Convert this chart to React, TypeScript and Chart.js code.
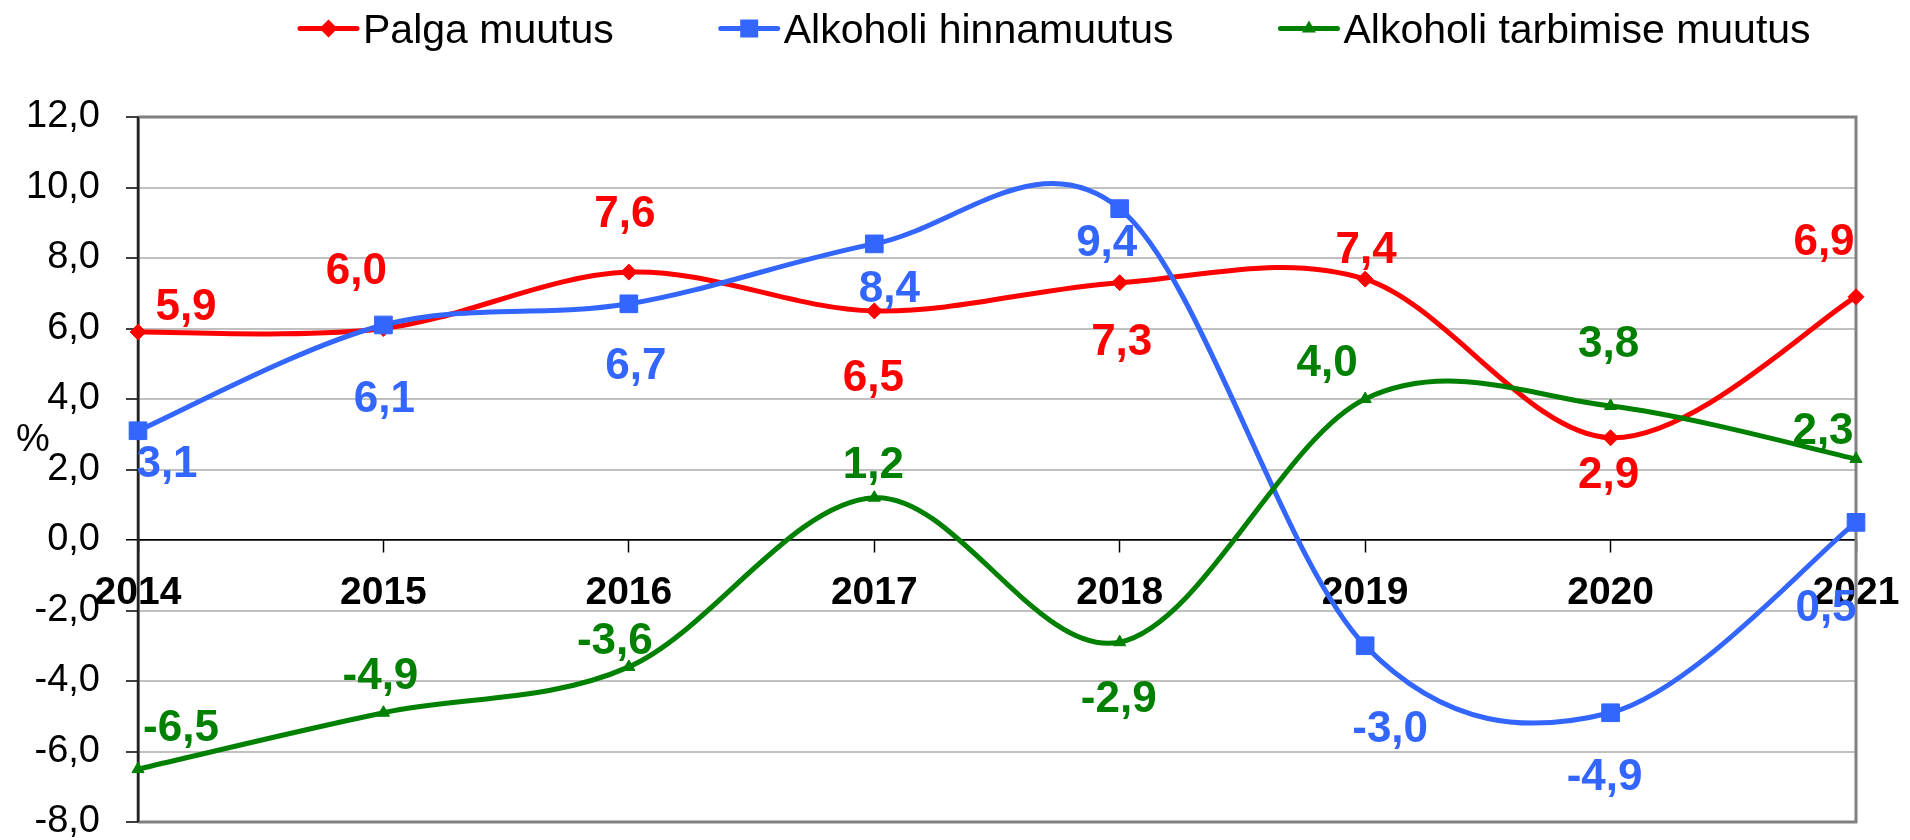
import React, { useEffect, useRef } from 'react';
import { Chart, registerables } from 'chart.js';

Chart.register(...registerables);

// ---- Data ----
const years = ['2014', '2015', '2016', '2017', '2018', '2019', '2020', '2021'];
const palgaMuutus = [5.9, 6.0, 7.6, 6.5, 7.3, 7.4, 2.9, 6.9];
const alkoholiHinnamuutus = [3.1, 6.1, 6.7, 8.4, 9.4, -3.0, -4.9, 0.5];
const alkoholiTarbimiseMuutus = [-6.5, -4.9, -3.6, 1.2, -2.9, 4.0, 3.8, 2.3];
const seriesNames = ['Palga muutus', 'Alkoholi hinnamuutus', 'Alkoholi tarbimise muutus'];
const yMin = -8;
const yMax = 12;
const yStep = 2;
const yAxisTitle = '%';

// ---- Label placement (pixel offsets from each point) ----
const redLabelOffsets = [[48, -28], [-27, -60], [-4, -61], [-1, 64], [2, 57], [1, -32], [-2, 34], [-32, -58]];
const blueLabelOffsets = [[29, 31], [1, 71], [7, 59], [15, 42], [-13, 32], [25, 80], [-6, 62], [-30, 83]];
const greenLabelOffsets = [[43, -44], [-3, -39], [-14, -29], [-1, -35], [-1, 54], [-38, -39], [-2, -65], [-33, -31]];

// ---- Styles ----
const FONT = "'Liberation Sans', Arial, sans-serif";
const RED = '#ff0000';
const BLUE = '#3366ff';
const GREEN = '#008000';

const fmt = (v: number) => v.toFixed(1).replace('.', ',');

function drawMarker(ctx: CanvasRenderingContext2D, style: string, x: number, y: number, color: string) {
  ctx.save();
  ctx.fillStyle = color;
  ctx.beginPath();
  if (style === 'rectRot') {
    const r = 9;
    ctx.moveTo(x, y - r);
    ctx.lineTo(x + r, y);
    ctx.lineTo(x, y + r);
    ctx.lineTo(x - r, y);
  } else if (style === 'rect') {
    const h = 9;
    ctx.rect(x - h, y - h, 2 * h, 2 * h);
  } else {
    ctx.moveTo(x, y - 8);
    ctx.lineTo(x + 7, y + 4);
    ctx.lineTo(x - 7, y + 4);
  }
  ctx.closePath();
  ctx.fill();
  ctx.restore();
}

const smoothPlugin = {
  id: 'excelSmooth',
  beforeDatasetDraw(chart: any, args: any) {
    const meta = args.meta;
    const line = meta.dataset;
    const pts = meta.data;
    if (line && typeof line.updateControlPoints === 'function') {
      line.updateControlPoints(chart.chartArea, 'x');
    }
    for (let i = 0; i < pts.length; i++) {
      const p = pts[i];
      const prev = pts[i - 1] || p;
      const next = pts[i + 1] || p;
      const dx = (next.x - prev.x) / 6;
      const dy = (next.y - prev.y) / 6;
      p.cp1x = p.x - dx;
      p.cp1y = p.y - dy;
      p.cp2x = p.x + dx;
      p.cp2y = p.y + dy;
    }
    if (line) line._path = undefined;
  },
};

const framePlugin = {
  id: 'frame',
  beforeDatasetsDraw(chart: any) {
    const { ctx, chartArea } = chart;
    const { left, right, top, bottom } = chartArea;
    ctx.save();
    ctx.strokeStyle = '#808080';
    ctx.lineWidth = 3;
    ctx.beginPath();
    ctx.moveTo(left, top);
    ctx.lineTo(right, top);
    ctx.lineTo(right, bottom);
    ctx.lineTo(left, bottom);
    ctx.stroke();
    ctx.strokeStyle = '#222';
    ctx.lineWidth = 2.5;
    ctx.beginPath();
    ctx.moveTo(left, top);
    ctx.lineTo(left, bottom);
    ctx.stroke();
    // y axis title
    ctx.fillStyle = '#000';
    ctx.font = `38px ${FONT}`;
    ctx.textAlign = 'center';
    ctx.textBaseline = 'alphabetic';
    ctx.fillText(yAxisTitle, 33, 437 + 0.358 * 38);
    ctx.restore();
  },
};

const labelPlugin = {
  id: 'dataLabels',
  afterDatasetsDraw(chart: any) {
    const { ctx } = chart;
    const offsets = [redLabelOffsets, blueLabelOffsets, greenLabelOffsets];
    ctx.save();
    ctx.font = `bold 44px ${FONT}`;
    ctx.textAlign = 'center';
    ctx.textBaseline = 'alphabetic';
    chart.data.datasets.forEach((ds: any, di: number) => {
      const meta = chart.getDatasetMeta(di);
      ctx.fillStyle = ds.borderColor;
      meta.data.forEach((pt: any, i: number) => {
        const [ox, oy] = offsets[di][i];
        ctx.fillText(fmt(ds.data[i]), pt.x + ox, pt.y + oy + 0.358 * 44);
      });
    });
    ctx.restore();
  },
};

const legendPlugin = {
  id: 'excelLegend',
  afterDraw(chart: any) {
    const { ctx } = chart;
    ctx.save();
    ctx.font = `41px ${FONT}`;
    ctx.textBaseline = 'alphabetic';
    ctx.textAlign = 'left';
    let x = 298;
    const cy = 28.5;
    chart.data.datasets.forEach((ds: any) => {
      ctx.strokeStyle = ds.borderColor;
      ctx.lineWidth = 5;
      ctx.lineCap = 'round';
      ctx.beginPath();
      ctx.moveTo(x + 2, cy);
      ctx.lineTo(x + 59, cy);
      ctx.stroke();
      drawMarker(ctx, ds.pointStyle, x + 30.5, cy, ds.borderColor);
      ctx.fillStyle = '#000';
      const tx = x + 65;
      ctx.fillText(ds.label, tx, cy + 0.358 * 41);
      x = tx + ctx.measureText(ds.label).width + 105;
    });
    ctx.restore();
  },
};

export default function App() {
  const ref = useRef<HTMLCanvasElement>(null);

  useEffect(() => {
    const canvas = ref.current;
    if (!canvas) return;
    const chart = new Chart(canvas, {
      type: 'line',
      data: {
        labels: years,
        datasets: [
          {
            label: seriesNames[0],
            data: palgaMuutus,
            borderColor: RED,
            backgroundColor: RED,
            pointBackgroundColor: RED,
            pointBorderColor: RED,
            pointBorderWidth: 1,
            pointStyle: 'rectRot',
            pointRadius: 8,
            borderWidth: 5,
            order: 2,
          },
          {
            label: seriesNames[1],
            data: alkoholiHinnamuutus,
            borderColor: BLUE,
            backgroundColor: BLUE,
            pointBackgroundColor: BLUE,
            pointBorderColor: BLUE,
            pointBorderWidth: 1,
            pointStyle: 'rect',
            pointRadius: 12.5,
            borderWidth: 5,
            order: 1,
          },
          {
            label: seriesNames[2],
            data: alkoholiTarbimiseMuutus,
            borderColor: GREEN,
            backgroundColor: GREEN,
            pointBackgroundColor: GREEN,
            pointBorderColor: GREEN,
            pointBorderWidth: 1,
            pointStyle: 'triangle',
            pointRadius: 7,
            borderWidth: 5,
            order: 0,
          },
        ],
      } as any,
      options: {
        responsive: false,
        maintainAspectRatio: false,
        animation: false,
        devicePixelRatio: 1,
        layout: { padding: { left: 0, top: 117, right: 54, bottom: 18 } },
        elements: { line: { tension: 0.4, capBezierPoints: false } },
        plugins: {
          legend: { display: false },
          tooltip: { enabled: false },
        },
        scales: {
          x: {
            position: { y: 0 },
            offset: false,
            grid: {
              display: true,
              drawOnChartArea: false,
              drawTicks: true,
              tickLength: 12,
              tickColor: '#000',
              tickWidth: 1.5,
            },
            border: { display: true, color: '#000', width: 1.5 },
            ticks: {
              color: '#000',
              font: { family: FONT, size: 39, weight: 'bold' },
              padding: 18,
              maxRotation: 0,
              autoSkip: false,
            },
            afterFit: (s: any) => {
              s.paddingLeft = 0;
              s.paddingRight = 0;
            },
          },
          y: {
            min: yMin,
            max: yMax,
            ticks: {
              stepSize: yStep,
              color: '#000',
              font: { family: FONT, size: 38 },
              padding: 26,
              callback: (v: any) => fmt(Number(v)),
            },
            grid: {
              color: (c: any) => (c.tick && c.tick.value === 0 ? '#000' : '#c0c0c0'),
              lineWidth: (c: any) => (c.tick && c.tick.value === 0 ? 1.5 : 2),
              tickColor: '#000',
              tickLength: 12,
              tickWidth: 1.5,
            },
            border: { display: true, color: '#222', width: 2.5 },
            afterFit: (s: any) => {
              s.width = 138;
              s.paddingTop = 0;
              s.paddingBottom = 0;
            },
          },
        },
      } as any,
      plugins: [smoothPlugin, framePlugin, labelPlugin, legendPlugin],
    });
    return () => chart.destroy();
  }, []);

  return (
    <div style={{ position: 'fixed', left: 0, top: 0, width: 1910, height: 840, background: '#fff' }}>
      <canvas ref={ref} width={1910} height={840} style={{ display: 'block', width: 1910, height: 840 }} />
    </div>
  );
}
